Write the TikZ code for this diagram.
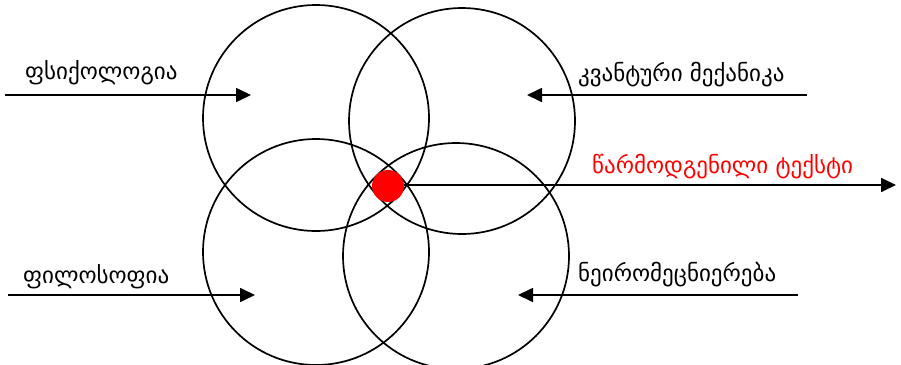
\documentclass[tikz,border=0pt]{standalone}
\usepackage{fontspec}
\setmainfont{DejaVu Sans}
\usetikzlibrary{arrows.meta,positioning}

\begin{document}
\begin{tikzpicture}[
  x=1pt, y=-1pt,
  field/.style={circle, draw=black, line width=1.7pt, minimum size=226pt, inner sep=0pt},
  core/.style={circle, fill=red, minimum size=32pt, inner sep=0pt},
  label/.style={font=\fontsize{23}{26}\selectfont, anchor=west, inner sep=0pt},
  flow/.style={->, line width=1.7pt},
  >={Triangle[length=15pt, width=14pt]}
]
  \useasboundingbox (0,0) rectangle (901,364);

  % Circles
  \node[field] (Psy) at (316,118) {};
  \node[field] (Qm) at (462,121) {};
  \node[field] (Phil) at (316,252) {};
  \node[field] (Neuro) at (456,256) {};

  % Centre
  \node[core] (Core) at (388,186) {};

  % Labels
  \node[label] (PsyTxt) at (25,73) {ფსიქოლოგია};
  \node[label] (QmTxt) at (578,75) {კვანტური მექანიკა};
  \node[label, red] (OutTxt) at (592,167) {წარმოდგენილი ტექსტი};
  \node[label] (PhilTxt) at (23,277) {ფილოსოფია};
  \node[label] (NeuroTxt) at (578,275) {ნეირომეცნიერება};

  % Arrow ends
  \coordinate (PsyIn) at (5,95);
  \coordinate (PsyEnd) at (251,95);
  \coordinate (QmIn) at (807,95);
  \coordinate (QmEnd) at (527,95);
  \coordinate (PhilIn) at (8,295);
  \coordinate (PhilEnd) at (255,295);
  \coordinate (NeuroIn) at (798,295);
  \coordinate (NeuroEnd) at (518,295);
  \coordinate (OutEnd) at (896,185);

  % Inputs
  \draw[flow] (PsyIn) -- (PsyEnd);
  \draw[flow] (QmIn) -- (QmEnd);
  \draw[flow] (PhilIn) -- (PhilEnd);
  \draw[flow] (NeuroIn) -- (NeuroEnd);

  % Output
  \draw[flow] (Core.east |- OutEnd) -- (OutEnd);

\end{tikzpicture}
\end{document}
